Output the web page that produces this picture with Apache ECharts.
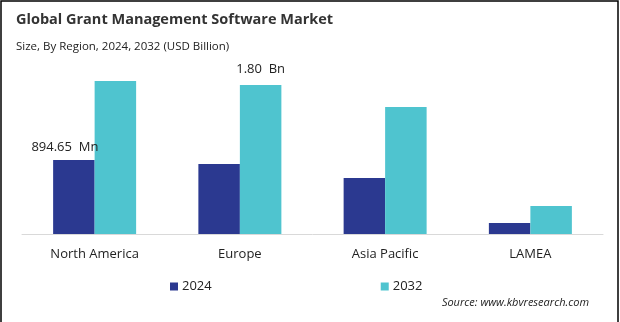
<!DOCTYPE html>
<html><head><meta charset="utf-8">
<script src="https://cdn.jsdelivr.net/npm/echarts@6/dist/echarts.min.js"></script>
<style>html,body{margin:0;padding:0;background:#fff}#c{width:620px;height:322px}</style>
</head><body><div id="c"></div>
<script>
const categories = ['North America', 'Europe', 'Asia Pacific', 'LAMEA'];
const values2024 = [0.895, 0.846, 0.677, 0.133];
const values2032 = [1.85, 1.80, 1.535, 0.338];
const labels2024 = ['894.65  Mn', '', '', ''];
const labels2032 = ['', '1.80  Bn', '', ''];
const seriesNames = ['2024', '2032'];

const chart = echarts.init(document.getElementById('c'), null, {renderer: 'canvas'});
const font = 'Open Sans, Noto Sans, sans-serif';
chart.setOption({
  animation: false,
  backgroundColor: '#fff',
  title: [{
    text: 'Global Grant Management Software Market',
    left: 11, top: 7,
    textStyle: {fontFamily: font, fontWeight: 'bold', fontSize: 14.5, color: '#333'}
  }, {
    text: 'Size, By Region, 2024, 2032 (USD Billion)',
    left: 11, top: 36,
    textStyle: {fontFamily: font, fontWeight: 'normal', fontSize: 11.5, color: '#222'}
  }],
  graphic: [{
    type: 'rect', shape: {x: 1, y: 1, width: 617, height: 330},
    style: {fill: 'none', stroke: '#000', lineWidth: 1.5}, silent: true
  }, {
    type: 'text', right: 31, top: 297,
    style: {text: 'Source: www.kbvresearch.com', font: 'italic 11px ' + font, fill: '#222'}
  }],
  legend: {
    data: seriesNames,
    top: 275, left: 165,
    itemGap: 169,
    itemWidth: 8, itemHeight: 8,
    icon: 'rect',
    textStyle: {fontFamily: font, fontSize: 13, color: '#222', padding: [0, 0, 0, -1]}
  },
  grid: {left: 22, right: 17, top: 68.5, bottom: 88, containLabel: false},
  xAxis: {
    type: 'category', data: categories,
    axisLine: {lineStyle: {color: '#d9d9d9', width: 1}},
    axisTick: {show: false},
    axisLabel: {fontFamily: font, fontSize: 13, color: '#222', margin: 14}
  },
  yAxis: {type: 'value', min: 0, max: 2, show: false, splitLine: {show: false}},
  series: [{
    name: '2024', type: 'bar', data: values2024, barWidth: 41.5, barGap: '0%',
    itemStyle: {color: '#2b3990'},
    label: {show: true, position: 'top', distance: 6, offset: [-9, 0],
      formatter: p => labels2024[p.dataIndex], fontFamily: font, fontSize: 13, color: '#222'}
  }, {
    name: '2032', type: 'bar', data: values2032, barWidth: 41.5, barGap: '0%',
    itemStyle: {color: '#4fc4cf'},
    label: {show: true, position: 'top', distance: 9,
      formatter: p => labels2032[p.dataIndex], fontFamily: font, fontSize: 13, color: '#222'}
  }]
});
</script></body></html>
